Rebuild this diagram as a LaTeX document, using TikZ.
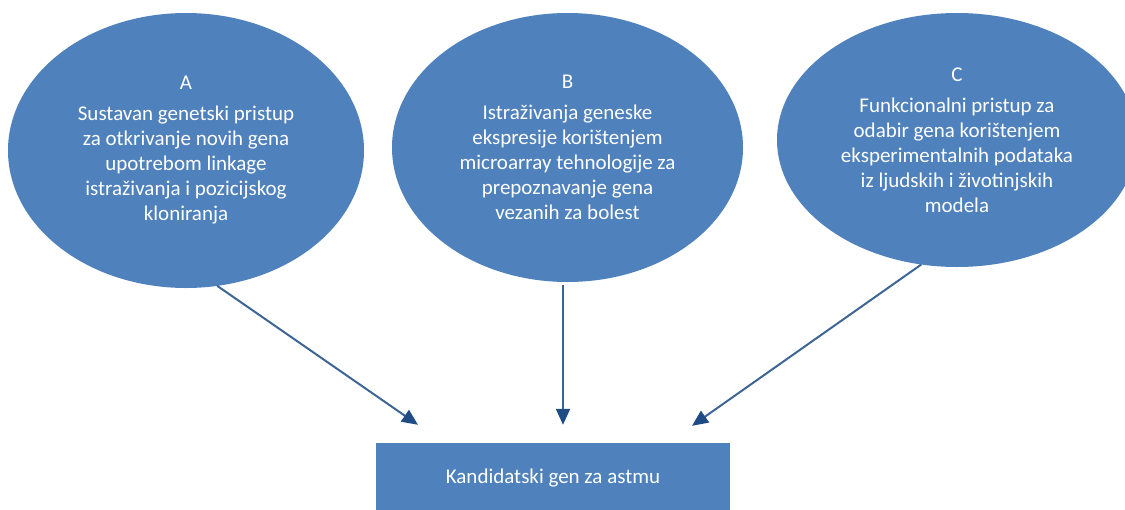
\documentclass[tikz,border=0pt]{standalone}
\usepackage{fontspec}
\setmainfont{Carlito}
\usetikzlibrary{arrows.meta,shapes.geometric,positioning}
\definecolor{OfficeBlue}{HTML}{4F81BD}
\definecolor{LineBlue}{HTML}{3D6596}
\definecolor{TipBlue}{HTML}{1F4C85}

\begin{document}
\begin{tikzpicture}[
        %Environment config
        x=1pt, y=-1pt,
        font=\fontsize{21}{25}\selectfont,
        %Environment styles
        EllipseCfg/.style={
            ellipse,
            fill=OfficeBlue,
            text=white,
            align=center,
            inner sep=0pt,
            outer sep=0pt
        },
        BoxCfg/.style={
            rectangle,
            fill=OfficeBlue,
            text=white,
            minimum width=354pt,
            minimum height=70pt,
            inner sep=0pt
        },
        ArrowCfg/.style={
            draw=LineBlue,
            line width=2pt,
            -{Triangle[length=16pt,width=14pt,color=TipBlue]}
        }
    ]
    \useasboundingbox (0,0) rectangle (1125,509);

    \path
        (186,150.5) node[EllipseCfg, minimum width=356pt, minimum height=275pt](A){A\\[6pt]
            Sustavan genetski pristup\\ za otkrivanje novih gena\\ upotrebom linkage\\
            istraživanja i pozicijskog\\ kloniranja}
        (567.5,147.5) node[EllipseCfg, minimum width=351pt, minimum height=269pt](B){B\\[6pt]
            Istraživanja geneske\\ ekspresije korištenjem\\ microarray tehnologije za\\
            prepoznavanje gena\\ vezanih za bolest}
        (957,140) node[EllipseCfg, minimum width=360pt, minimum height=254pt](C){C\\[6pt]
            Funkcionalni pristup za\\ odabir gena korištenjem\\ eksperimentalnih podataka\\
            iz ljudskih i životinjskih\\ modela}
        (553,478) node[BoxCfg](K){Kandidatski gen za astmu};

    % arrow ends just above the box
    \coordinate (inA) at ([shift={(-135,-18)}]K.north);
    \coordinate (inB) at ([shift={(10,-18)}]K.north);
    \coordinate (inC) at ([shift={(139,-17)}]K.north);

    \draw[ArrowCfg] (A.-77) -- (inA);
    \draw[ArrowCfg] ([yshift=-3pt]B.south -| inB) -- (inB);
    \draw[ArrowCfg] (C.-106) -- (inC);
\end{tikzpicture}
\end{document}
